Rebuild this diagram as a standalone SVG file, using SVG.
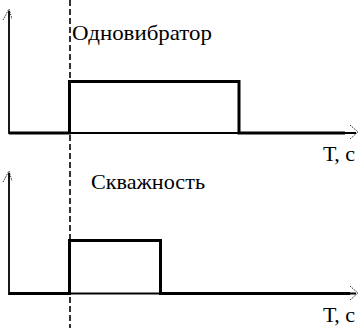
<svg xmlns="http://www.w3.org/2000/svg" width="360" height="328" viewBox="0 0 360 328">
<style>
.axis{stroke:#000;stroke-width:1.8;fill:none}
.sig{stroke:#000;stroke-width:3;fill:none;stroke-linejoin:miter}
.head{stroke:#000;stroke-width:0.8;fill:none;stroke-dasharray:1.5,1}
.dash{stroke:#000;stroke-width:1.6;stroke-dasharray:6,3;fill:none}
text{font-family:"Liberation Serif","Times New Roman",serif;font-size:22px;fill:#000}
</style>
<rect width="360" height="328" fill="#fff"/>
<g id="connectors">
<line class="dash" x1="70" y1="0" x2="70" y2="328"/>
</g>
<g id="chart-top">
<line class="axis" x1="9" y1="134" x2="9" y2="11"/>
<line class="axis" x1="9" y1="133" x2="356" y2="133"/>
<path class="head" d="M3,20 L9,9 L12,19"/>
<path class="head" d="M350,125 L358,132 L350,139"/>
<path class="sig" d="M9,133 H69.5 V81.5 H239 V133 H345"/>
<text x="72" y="40" textLength="140" lengthAdjust="spacingAndGlyphs">Одновибратор</text>
<text x="323" y="161">Т, с</text>
</g>
<g id="chart-bottom">
<line class="axis" x1="9" y1="295" x2="9" y2="173"/>
<line class="axis" x1="9" y1="293.5" x2="356" y2="293.5"/>
<path class="head" d="M3,182 L9,171 L12,181"/>
<path class="head" d="M350,286 L358,293 L350,300"/>
<path class="sig" d="M9,293.5 H69.5 V240.5 H160.5 V293.5 H350"/>
<text x="91" y="189" textLength="114" lengthAdjust="spacingAndGlyphs">Скважность</text>
<text x="323" y="322">Т, с</text>
</g>
</svg>
